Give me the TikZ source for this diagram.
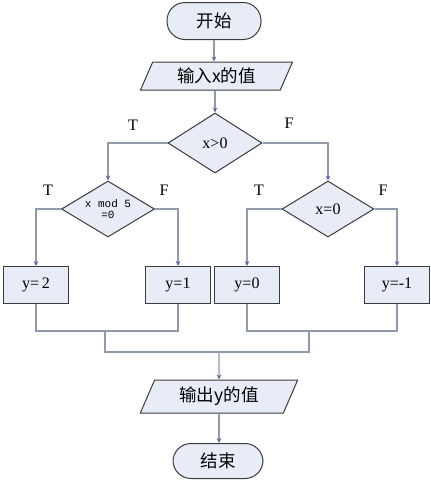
\documentclass[tikz,border=0pt]{standalone}
\usepackage{fontspec}
\setmainfont{Liberation Serif}
\setmonofont{Liberation Mono}
\newfontfamily\cjk{Noto Sans CJK SC}
\usetikzlibrary{shapes.geometric,arrows.meta}
\definecolor{linec}{RGB}{145,155,172}
\definecolor{borderc}{RGB}{60,60,60}
\definecolor{fillc}{RGB}{232,236,246}
\definecolor{tipc}{RGB}{90,100,150}
\tikzset{
  shp/.style={draw=borderc, fill=fillc, line width=1pt, inner sep=0pt, font=\fontsize{16}{18}\selectfont},
  cjkt/.style={font=\fontsize{17.5}{19}\selectfont\cjk},
  term/.style={shp, cjkt, rectangle, rounded corners=18pt, minimum width=#1, minimum height=37},
  io/.style={shp, cjkt, trapezium, trapezium left angle=65, trapezium right angle=115, trapezium stretches=true, minimum width=#1},
  dec/.style={shp, diamond, aspect=1.6},
  proc/.style={shp, rectangle, minimum width=65, minimum height=37},
  conn/.style={draw=linec, line width=1.4pt},
  arr/.style={conn, -{Stealth[length=5pt,width=4.5pt,color=tipc]}},
  lab/.style={font=\fontsize{16}{18}\selectfont}
}
\begin{document}
\begin{tikzpicture}[x=1pt,y=-1pt]
\useasboundingbox (0,0) rectangle (431,483);
\node[term=94] (start) at (214,21) {开始};
\node[io=153, minimum height=28] (in) at (216.5,76) {输入x的值};
\node[dec, minimum width=94, minimum height=60] (d1) at (215,143) {x>0};
\node[dec, minimum width=93, minimum height=56, font=\fontsize{11}{11.5}\selectfont\ttfamily, align=center] (d2) at (108,209) {x mod 5\\=0};
\node[dec, minimum width=92, minimum height=56] (d3) at (328,209) {x=0};
\node[proc] (b1) at (36,285) {y=\,2};
\node[proc] (b2) at (178,285) {y=1};
\node[proc] (b3) at (247,285) {y=0};
\node[proc] (b4) at (397,285) {y=-1};
\node[io=158, minimum height=33] (out) at (219,396.5) {输出y的值};
\node[term=90, minimum height=35] (end) at (218,461) {结束};

\node[lab] (t1) at (133,125) {T};
\node[lab] (f1) at (289,123) {F};
\node[lab] (t2) at (48,190) {T};
\node[lab] (f2) at (164,190) {F};
\node[lab] (t3) at (259,190) {T};
\node[lab] (f3) at (383,190) {F};

\coordinate (ja) at (105,331);
\coordinate (jb) at (309,331);
\coordinate (jc) at (219,352);

\draw[arr] (start.south) -- (start.south |- in.north);
\draw[arr] (in.south -| d1.north) -- (d1.north);
\draw[arr] (d1.west) -| (d2.north);
\draw[arr] (d1.east) -| (d3.north);
\draw[arr] (d2.west) -| (b1.north);
\draw[arr] (d2.east) -| (b2.north);
\draw[arr] (d3.west) -| (b3.north);
\draw[arr] (d3.east) -| (b4.north);
\draw[conn] (b1.south) |- (ja) -| (b2.south);
\draw[conn] (b3.south) |- (jb) -| (b4.south);
\draw[conn] (ja) |- (jc) -| (jb);
\draw[arr] (jc) -- (out.north);
\draw[arr] (out.south) -- (out.south |- end.north);
\end{tikzpicture}
\end{document}
